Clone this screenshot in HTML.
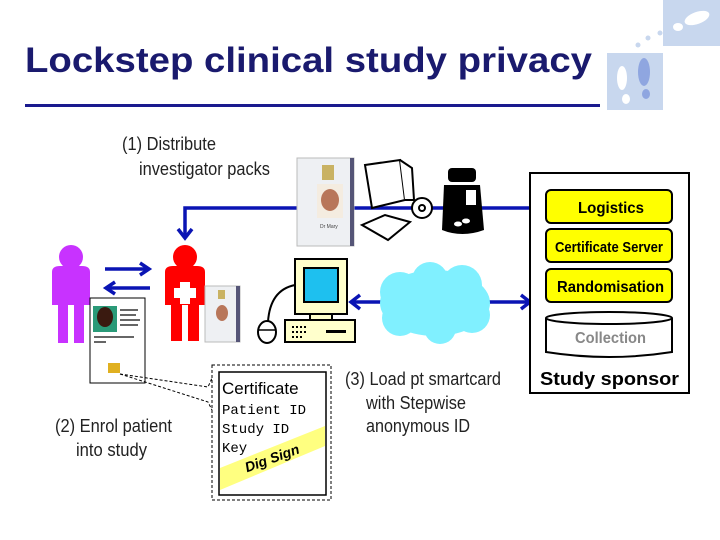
<!DOCTYPE html>
<html><head><meta charset="utf-8"><style>
html,body{margin:0;padding:0;background:#fff;}
svg{display:block;}
</style></head><body>
<svg width="720" height="540" viewBox="0 0 720 540" xmlns="http://www.w3.org/2000/svg" font-family="Liberation Sans, sans-serif">
<!-- decor -->
<rect x="663" y="0" width="57" height="46" fill="#c8d7ee"/>
<rect x="607" y="53" width="56" height="57" fill="#c8d7ee"/>
<ellipse cx="697" cy="18" rx="13" ry="6" fill="#fff" transform="rotate(-20 697 18)"/>
<ellipse cx="678" cy="27" rx="5" ry="4" fill="#fff"/>
<ellipse cx="622" cy="78" rx="5" ry="12" fill="#fff"/>
<ellipse cx="626" cy="99" rx="4" ry="5" fill="#fff"/>
<ellipse cx="644" cy="72" rx="6" ry="14" fill="#8fa6e0"/>
<ellipse cx="646" cy="94" rx="4" ry="5" fill="#8fa6e0"/>
<circle cx="638" cy="45" r="2.5" fill="#c8d7ee"/><circle cx="648" cy="38" r="2.5" fill="#c8d7ee"/><circle cx="660" cy="33" r="2.5" fill="#c8d7ee"/>
<!-- title -->
<text x="25" y="72" font-size="35" font-weight="bold" fill="#1a1a6e" textLength="567" lengthAdjust="spacingAndGlyphs">Lockstep clinical study privacy</text>
<rect x="25" y="104" width="575" height="3" fill="#1a1a8e"/>
<!-- labels -->
<g font-size="18" fill="#222" lengthAdjust="spacingAndGlyphs">
<text x="122" y="150" textLength="94" lengthAdjust="spacingAndGlyphs">(1) Distribute</text>
<text x="139" y="175" textLength="131" lengthAdjust="spacingAndGlyphs">investigator packs</text>
<text x="55" y="432" textLength="117" lengthAdjust="spacingAndGlyphs">(2) Enrol patient</text>
<text x="76" y="456" textLength="71" lengthAdjust="spacingAndGlyphs">into study</text>
<text x="345" y="385" textLength="156" lengthAdjust="spacingAndGlyphs">(3) Load pt smartcard</text>
<text x="366" y="409" textLength="100" lengthAdjust="spacingAndGlyphs">with Stepwise</text>
<text x="366" y="432" textLength="104" lengthAdjust="spacingAndGlyphs">anonymous ID</text>
</g>
<!-- blue lines -->
<g stroke="#0a14b4" stroke-width="3.5" fill="none">
<polyline points="530,208 185,208 185,238"/>
<polyline points="178,229 185,238 192,229"/>
<line x1="105" y1="269" x2="148" y2="269"/><polyline points="140,263 149,269 140,275"/>
<line x1="108" y1="288" x2="150" y2="288"/><polyline points="115,282 106,288 115,294"/>
<line x1="351" y1="302" x2="530" y2="302"/>
<polyline points="360,295 351,302 360,309"/><polyline points="521,295 530,302 521,309"/>
</g>
<!-- investigator card large -->
<rect x="297" y="158" width="57" height="88" fill="#eef0f3" stroke="#bbb"/>
<rect x="350" y="158" width="4" height="88" fill="#557"/>
<rect x="322" y="165" width="12" height="15" fill="#c9b263"/>
<rect x="317" y="184" width="26" height="34" fill="#f4ece0"/>
<ellipse cx="330" cy="200" rx="9" ry="11" fill="#b8765a"/>
<text x="320" y="228" font-size="5" fill="#444">Dr Mary</text>
<!-- box, book, cd -->
<g stroke="#000" stroke-width="2" fill="#fff">
<path d="M365 165 L400 160 L405 200 L372 208 Z"/>
<path d="M400 160 L412 168 L414 200 L405 200"/>
<path d="M362 225 L385 215 L410 222 L388 240 Z"/>
<circle cx="422" cy="208" r="10"/><circle cx="422" cy="208" r="3"/>
</g>
<!-- bottle -->
<rect x="448" y="168" width="28" height="14" rx="4" fill="#000"/>
<path d="M444 185 L480 185 L484 230 Q462 238 442 230 Z" fill="#000"/>
<rect x="466" y="190" width="10" height="15" fill="#fff"/>
<ellipse cx="458" cy="224" rx="4" ry="2.5" fill="#fff"/><ellipse cx="466" cy="221" rx="4" ry="2.5" fill="#fff"/>
<!-- sponsor -->
<rect x="530" y="173" width="159" height="220" fill="#fff" stroke="#000" stroke-width="2"/>
<g stroke="#000" stroke-width="2" fill="#ffff00">
<rect x="546" y="190" width="126" height="33" rx="5"/>
<rect x="546" y="229" width="126" height="33" rx="5"/>
<rect x="546" y="269" width="126" height="33" rx="5"/>
</g>
<path d="M546 318 L546 352 Q609 362 672 352 L672 318" fill="#fff" stroke="#000" stroke-width="2"/>
<ellipse cx="609" cy="318" rx="63" ry="6" fill="#fff" stroke="#000" stroke-width="2"/>
<g font-weight="bold">
<text x="578" y="213" font-size="16" textLength="66" lengthAdjust="spacingAndGlyphs">Logistics</text>
<text x="555" y="252" font-size="15" textLength="108" lengthAdjust="spacingAndGlyphs">Certificate Server</text>
<text x="557" y="292" font-size="16" textLength="107" lengthAdjust="spacingAndGlyphs">Randomisation</text>
<text x="575" y="343" font-size="16" fill="#888" textLength="71" lengthAdjust="spacingAndGlyphs">Collection</text>
<text x="540" y="385" font-size="18" textLength="139" lengthAdjust="spacingAndGlyphs">Study sponsor</text>
</g>
<!-- cloud -->
<g fill="#80f0ff">
<ellipse cx="435" cy="303" rx="55" ry="33"/>
<circle cx="400" cy="292" r="20"/><circle cx="430" cy="280" r="18"/><circle cx="462" cy="285" r="20"/>
<circle cx="400" cy="318" r="18"/><circle cx="440" cy="328" r="16"/><circle cx="472" cy="315" r="18"/>
</g>
<!-- computer -->
<rect x="295" y="259" width="52" height="55" fill="#ffffcc" stroke="#000" stroke-width="2"/>
<rect x="304" y="268" width="34" height="34" fill="#1ec0ef" stroke="#000" stroke-width="2"/>
<rect x="310" y="314" width="22" height="6" fill="#ffffcc" stroke="#000" stroke-width="2"/>
<rect x="285" y="320" width="70" height="22" fill="#ffffcc" stroke="#000" stroke-width="2"/>
<rect x="326" y="330" width="20" height="3" fill="#000"/>
<g fill="#000"><rect x="292" y="326" width="2" height="2"/><rect x="296" y="326" width="2" height="2"/><rect x="300" y="326" width="2" height="2"/><rect x="304" y="326" width="2" height="2"/><rect x="292" y="331" width="2" height="2"/><rect x="296" y="331" width="2" height="2"/><rect x="300" y="331" width="2" height="2"/><rect x="304" y="331" width="2" height="2"/><rect x="292" y="336" width="2" height="2"/><rect x="296" y="336" width="2" height="2"/><rect x="300" y="336" width="2" height="2"/></g>
<path d="M295 285 Q270 290 268 322" stroke="#000" stroke-width="2" fill="none"/>
<ellipse cx="267" cy="332" rx="9" ry="11" fill="#fff" stroke="#000" stroke-width="2"/>
<line x1="258" y1="330" x2="276" y2="330" stroke="#000" stroke-width="1.5"/>
<!-- patient purple -->
<g fill="#c832ff">
<circle cx="71" cy="257" r="12"/>
<path d="M52 272 Q52 266 60 266 L82 266 Q90 266 90 272 L90 305 L84 305 L84 343 L74 343 L74 305 L68 305 L68 343 L58 343 L58 305 L52 305 Z"/>
</g>
<!-- doctor red -->
<g fill="#ff0000">
<circle cx="185" cy="257" r="12"/>
<path d="M165 272 Q165 266 173 266 L197 266 Q205 266 205 272 L205 305 L199 305 L199 341 L188 341 L188 305 L182 305 L182 341 L171 341 L171 305 L165 305 Z"/>
</g>
<path d="M180 282 h10 v6 h6 v10 h-6 v6 h-10 v-6 h-6 v-10 h6 z" fill="#fff"/>
<!-- doctor card small -->
<rect x="205" y="286" width="35" height="56" fill="#eef0f3" stroke="#bbb"/>
<rect x="236" y="286" width="4" height="56" fill="#557"/>
<rect x="218" y="290" width="7" height="9" fill="#c9b263"/>
<ellipse cx="222" cy="313" rx="6" ry="8" fill="#b8765a"/>
<!-- patient card -->
<rect x="90" y="298" width="55" height="85" fill="#fff" stroke="#000"/>
<rect x="93" y="306" width="24" height="26" fill="#2a9a78"/>
<ellipse cx="105" cy="317" rx="8" ry="10" fill="#3a1a10"/>
<g fill="#666"><rect x="120" y="309" width="18" height="2"/><rect x="120" y="314" width="16" height="2"/><rect x="120" y="319" width="20" height="2"/><rect x="120" y="324" width="18" height="2"/><rect x="94" y="336" width="40" height="2"/><rect x="94" y="341" width="12" height="2"/></g>
<rect x="108" y="363" width="12" height="10" fill="#e0b020"/>
<!-- dashed connectors -->
<g stroke="#000" stroke-width="1" stroke-dasharray="3,2" fill="none">
<polyline points="120,374 208,387 212,378"/>
<polyline points="120,374 208,402 212,410"/>
<rect x="212" y="365" width="119" height="135"/>
</g>
<!-- certificate -->
<rect x="219" y="372" width="107" height="123" fill="#fff" stroke="#000" stroke-width="1.5"/>
<polygon points="220,468 325,426 325,446 220,490" fill="#ffff80"/>
<text x="222" y="394" font-size="17" fill="#000">Certificate</text>
<g font-family="Liberation Mono, monospace" font-size="14" fill="#000">
<text x="222" y="414">Patient ID</text>
<text x="222" y="433">Study ID</text>
<text x="222" y="452">Key</text>
</g>
<text x="272" y="463" font-size="14" font-weight="bold" font-style="italic" text-anchor="middle" transform="rotate(-20 272 458)">Dig Sign</text>
</svg>
</body></html>
